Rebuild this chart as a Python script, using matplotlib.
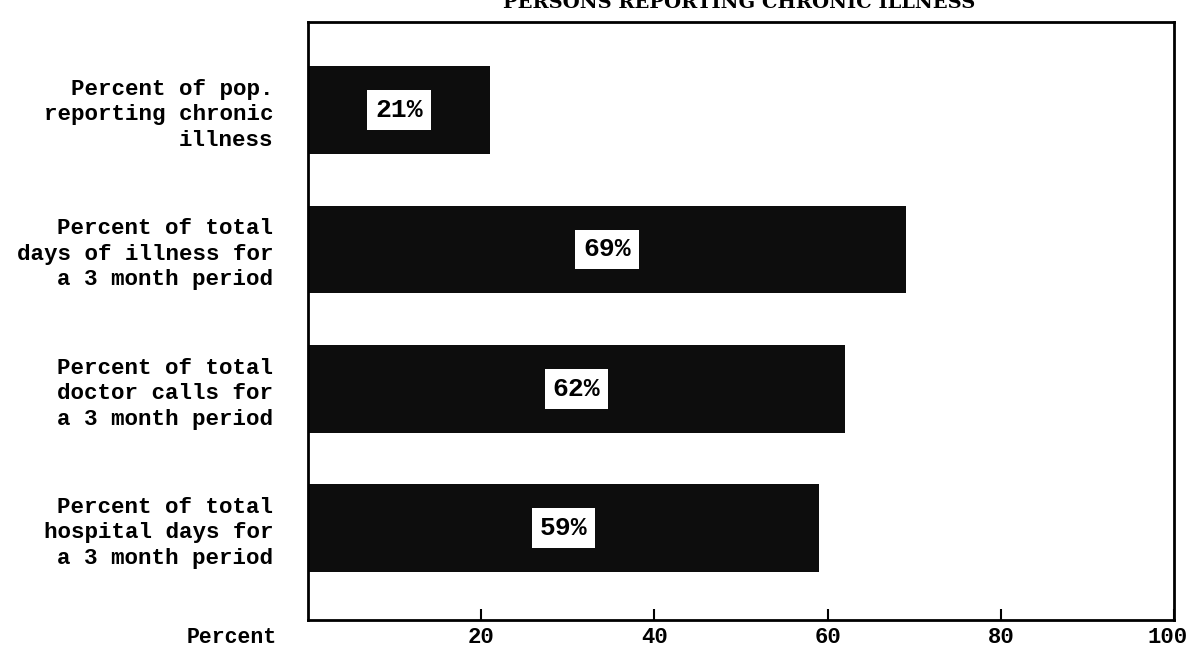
import matplotlib.pyplot as plt
import matplotlib.transforms as mtransforms
import numpy as np

categories = [
    "Percent of pop.\nreporting chronic\nillness",
    "Percent of total\ndays of illness for\na 3 month period",
    "Percent of total\ndoctor calls for\na 3 month period",
    "Percent of total\nhospital days for\na 3 month period",
]
values = [21, 69, 62, 59]
ticks = [20, 40, 60, 80, 100]
title = "PERSONS REPORTING CHRONIC ILLNESS"

mono = ["Liberation Mono", "DejaVu Sans Mono"]

fig = plt.figure(figsize=(11.92, 6.53), dpi=100)
ax = fig.add_axes([0.2584, 0.0505, 0.7265, 0.9158])

y = np.arange(len(categories))
ax.barh(y, values, height=0.63, color="#0d0d0d")
for yi, v in zip(y, values):
    ax.text(v / 2, yi, f"{v}%", ha="center", va="center", fontsize=19,
            family=mono, fontweight="bold", color="black",
            bbox=dict(boxstyle="square,pad=0.3", fc="white", ec="none"))

ax.set_xlim(0, 100)
ax.set_ylim(3.66, -0.633)
ax.set_yticks(y)
ax.set_yticklabels(categories, family=mono, fontweight="bold", fontsize=16.2,
                   linespacing=1.28, ha="right")
ax.tick_params(axis="y", length=0, pad=25)
ax.set_xticks(ticks)
ax.set_xticklabels([str(t) for t in ticks], family=mono, fontweight="bold", fontsize=16)
ax.tick_params(axis="x", direction="in", length=8, width=1.5, pad=5)
# nudge "100" a little left so it stays inside the figure
last = ax.get_xticklabels()[-1]
last.set_transform(last.get_transform() +
                   mtransforms.ScaledTranslation(-6 / 100, 0, fig.dpi_scale_trans))
for s in ax.spines.values():
    s.set_linewidth(2)
ax.text(-3.6, -0.012, "Percent", transform=ax.get_xaxis_transform(), ha="right", va="top",
        family=mono, fontweight="bold", fontsize=15.5)

fig.text(0.62, 0.982, title, ha="center", va="bottom", family="DejaVu Serif",
         fontweight="bold", fontsize=14)

fig.savefig("out.png", dpi=100)
